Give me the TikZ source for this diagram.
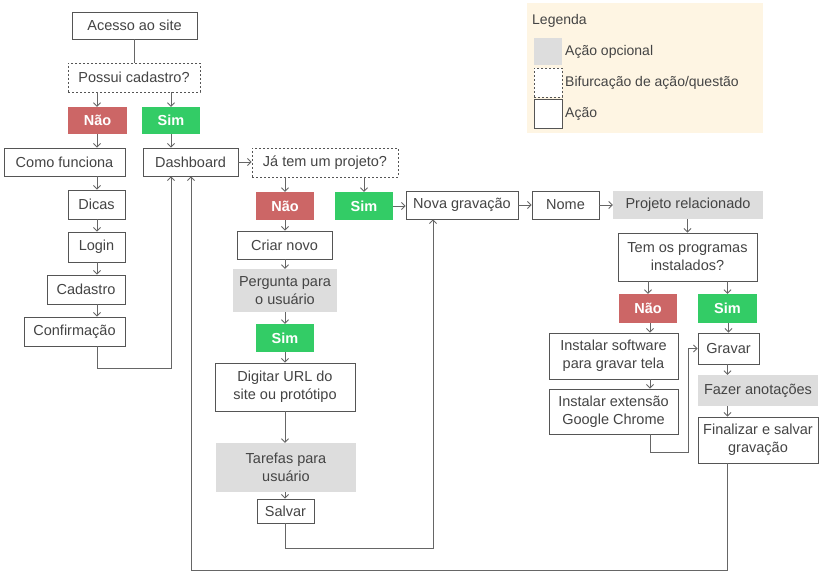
\documentclass[tikz,border=0pt]{standalone}
\usepackage{fontspec}
\setmainfont{Liberation Sans}
\usetikzlibrary{arrows.meta,calc}
\definecolor{txt}{HTML}{444444}
\definecolor{bord}{HTML}{555555}
\definecolor{lin}{HTML}{666666}
\definecolor{nored}{HTML}{CC6666}
\definecolor{yesgreen}{HTML}{33CC66}
\definecolor{optgray}{HTML}{DDDDDD}
\definecolor{legbg}{HTML}{FEF5E3}
\tikzset{
  base/.style={inner sep=0pt, align=center, text=txt, font=\fontsize{14.5}{18}\selectfont},
  act/.style={base, draw=bord, line width=0.9pt, fill=white},
  fork/.style={base, draw=bord, line width=0.8pt, dash pattern=on 2pt off 2pt, fill=white},
  opt/.style={base, fill=optgray},
  nobox/.style={base, fill=nored, text=white, font=\fontsize{14.5}{18}\selectfont\bfseries},
  yesbox/.style={base, fill=yesgreen, text=white, font=\fontsize{14.5}{18}\selectfont\bfseries},
  arr/.style={draw=lin, line width=0.9pt, -{Straight Barb[length=3.5pt,width=7pt]}},
  ln/.style={draw=lin, line width=0.9pt},
  sz/.style 2 args={minimum width=#1pt, minimum height=#2pt},
  legtxt/.style={base, anchor=west, font=\fontsize{14}{17}\selectfont},
}
\begin{document}
\begin{tikzpicture}[x=1pt,y=-1pt]
\useasboundingbox (0,0) rectangle (821,572);
% legend
\fill[legbg] (527,3) rectangle (763,133);
\node[legtxt] (legT) at (532,20.5) {Legenda};
\node[opt, sz={28}{27}] (legA) at (548,51.5) {};
\node[fork, sz={28}{29}] (legB) at (548,82.5) {};
\node[act, sz={28}{29}] (legC) at (548,113.5) {};
\node[legtxt] (legAt) at (565,52) {Ação opcional};
\node[legtxt] (legBt) at (565,82.5) {Bifurcação de ação/questão};
\node[legtxt] (legCt) at (565,114) {Ação};
% left column
\node[act, sz={125}{27}] (acc) at (134.5,25.5) {Acesso ao site};
\node[fork, sz={132}{29}] (pos) at (134,77.5) {Possui cadastro?};
\node[nobox, sz={59}{27}] (n1) at (97.5,120.5) {Não};
\node[yesbox, sz={58}{27}] (s1) at (171,120.5) {Sim};
\node[act, sz={121}{28}] (como) at (64.5,162) {Como funciona};
\node[act, sz={95}{28}] (dash) at (190.5,162) {Dashboard};
\node[act, sz={57}{29}] (dicas) at (96.5,204.5) {Dicas};
\node[act, sz={57}{30}] (login) at (96.5,247) {Login};
\node[act, sz={78}{29}] (cad) at (86,289.5) {Cadastro};
\node[act, sz={101}{29}] (conf) at (74.5,331.5) {Confirmação};
% middle column
\node[fork, sz={146}{29}] (ja) at (325,162.5) {Já tem um projeto?};
\node[nobox, sz={58}{28}] (n2) at (285,206) {Não};
\node[yesbox, sz={58}{28}] (s2) at (364,206) {Sim};
\node[act, sz={95}{28}] (criar) at (284.5,245) {Criar novo};
\node[opt, sz={104}{43}] (perg) at (285,290.5) {Pergunta para\\o usuário};
\node[yesbox, sz={58}{28}] (s3) at (285,338) {Sim};
\node[act, sz={140}{48}] (dig) at (285,387) {Digitar URL do\\site ou protótipo};
\node[opt, sz={140}{49}] (tar) at (286,467.5) {Tarefas para\\usuário};
\node[act, sz={57}{24}] (salv) at (285.5,511) {Salvar};
% right part
\node[act, sz={112}{28}] (nova) at (462,205) {Nova gravação};
\node[act, sz={67}{28}] (nome) at (565.5,205) {Nome};
\node[opt, sz={150}{28}] (proj) at (688,205) {Projeto relacionado};
\node[act, sz={139}{48}] (tem) at (687.5,257) {Tem os programas\\instalados?};
\node[nobox, sz={58}{29}] (n3) at (648,308.5) {Não};
\node[yesbox, sz={59}{29}] (s4) at (727.5,308.5) {Sim};
\node[act, sz={129}{46}] (inst) at (613.5,356) {Instalar software\\para gravar tela};
\node[act, sz={129}{45}] (ext) at (613.5,411.5) {Instalar extensão\\Google Chrome};
\node[act, sz={61}{31}] (grav) at (728.5,348.5) {Gravar};
\node[opt, sz={120}{31}] (faz) at (758,390.5) {Fazer anotações};
\node[act, sz={120}{46}] (fin) at (758,440) {Finalizar e salvar\\gravação};
% helper coordinates
\coordinate (colA) at (97,0);
\coordinate (c1) at (171,368);
\coordinate (c2) at (433,548);
\coordinate (c3) at (688,452);
\coordinate (c4) at (191,570.5);
\coordinate (colB) at (285,0);
\coordinate (colC) at (650,0);
% connectors left
\draw[ln] (acc.south) -- (acc.south |- pos.north);
\draw[arr] (pos.south -| colA) -- (n1.north -| colA);
\draw[arr] (pos.south -| s1) -- (s1.north);
\draw[arr] (n1.south -| colA) -- (como.north -| colA);
\draw[arr] (s1.south) -- (s1.south |- dash.north);
\draw[arr] (como.south -| colA) -- (dicas.north -| colA);
\draw[arr] (dicas.south -| colA) -- (login.north -| colA);
\draw[arr] (login.south -| colA) -- (cad.north -| colA);
\draw[arr] (cad.south -| colA) -- (conf.north -| colA);
\draw[arr] (conf.south -| colA) |- (c1) -- (c1 |- dash.south);
\draw[arr] (dash.east) -- (ja.west |- dash.east);
% connectors middle
\draw[arr] (ja.south -| n2) -- (n2.north);
\draw[arr] (ja.south -| s2) -- (s2.north);
\draw[arr] (s2.east) -- (s2.east -| nova.west);
\draw[arr] (n2.south -| colB) -- (criar.north -| colB);
\draw[arr] (criar.south -| colB) -- (perg.north -| colB);
\draw[arr] (perg.south -| colB) -- (s3.north -| colB);
\draw[arr] (s3.south -| colB) -- (dig.north -| colB);
\draw[arr] (dig.south -| colB) -- (tar.north -| colB);
\draw[arr] (tar.south -| colB) -- (salv.north -| colB);
\draw[arr] (salv.south) |- (c2) -- (c2 |- nova.south);
% connectors right
\draw[arr] (nova.east) -- (nome.west);
\draw[arr] (nome.east) -- (proj.west);
\draw[arr] (proj.south -| tem) -- (tem.north);
\draw[arr] (tem.south -| n3) -- (n3.north);
\draw[arr] (tem.south -| s4) -- (s4.north);
\draw[arr] (n3.south -| colC) -- (inst.north -| colC);
\draw[arr] (inst.south -| colC) -- (ext.north -| colC);
\draw[arr] (ext.south -| colC) |- (c3) |- (grav.west);
\draw[arr] (s4.south -| grav) -- (grav.north);
\draw[arr] (grav.south -| s4) -- (faz.north -| s4);
\draw[arr] (faz.south -| s4) -- (fin.north -| s4);
\draw[arr] (fin.south -| s4) |- (c4) -- (c4 |- dash.south);
\end{tikzpicture}
\end{document}
